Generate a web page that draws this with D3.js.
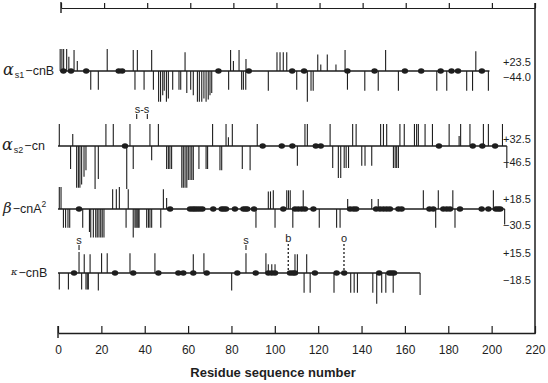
<!DOCTYPE html>
<html><head><meta charset="utf-8">
<script src="https://cdn.jsdelivr.net/npm/d3@7"></script>
<style>html,body{margin:0;padding:0;background:#fff;}svg{display:block;}</style>
</head><body>
<script>
// ---------------- DATA (residue positions; bar magnitudes in arbitrary units) ----------------
const axisTicks = [0,20,40,60,80,100,120,140,160,180,200,220];
const axisTitle = "Residue sequence number";

// alpha-s1 casein B
const as1Span = [1,199];
const as1Scale = ["+23.5","\u221244.0"];
const as1Up = [[1,10],[1.8,10],[2.6,10],[4,10],[5,6.5],[7.4,9.5],[8.9,4.5],[22.7,10],[34.7,9.5],[36.6,9.5],[43.2,9.5],[58.6,8.5],[79.6,9.5],[80.9,4.5],[83.5,9.5],[86.7,5.5],[101,8.5],[102.4,8.5],[103.9,8.5],[105.5,8.5],[119.8,7.5],[121.2,3],[124.2,7.5],[128.2,3],[132.4,9.5],[151.1,9.5],[192.7,9]];
const as1Down = [[15.1,8.5],[18.6,8.5],[35.5,8.5],[39.7,8.5],[44,8.5],[46.4,14],[47.3,14],[48.3,11],[49,9],[50,14],[50.9,12.5],[52.9,8.5],[55.8,8.5],[56.6,8.5],[59.4,10],[61.2,8.5],[62.4,11],[64.3,14],[65.2,14],[66.3,14],[67.3,12.5],[68.3,14],[69.3,13],[70.1,11],[70.9,10],[78.7,8.5],[84.7,8.5],[85.5,8.5],[86.6,8.5],[97,9],[110.1,8.5],[115,14],[116.7,9],[117.7,9],[133.5,8.5],[141.5,9],[147.7,9],[157,9],[174.7,9],[179.3,9],[188.5,9],[191.2,9],[198.5,9]];
const as1Dots = [2.5,6,13,28,29.6,74,88,108,113.5,133.5,146,160,167.5,176.5,181.5,184.5,195.5];

// alpha-s2 casein
const as2Span = [0,207];
const as2Scale = ["+32.5","\u221246.5"];
const as2Up = [[0.6,10],[6.8,5.5],[22.1,10],[25.5,10],[33.2,10],[42.4,10],[46.3,10],[71.3,10],[77.5,10],[78.6,4],[80.4,10],[91.9,10],[113.9,10],[115,10],[125.5,10],[135.9,10],[137.5,10],[148.8,10],[150.1,10],[151.6,10],[157.7,10],[159.7,10],[164.4,10],[165.4,10],[166.2,10],[169.3,10],[172.7,10],[180.4,10],[185,4.5],[185.7,10],[190,10],[196.2,10],[198.5,10],[205,10]];
const as2Down = [[5.8,10.5],[8.6,19],[9.4,19],[10.1,19],[10.9,17.5],[12,14],[12.9,11],[17.1,19.5],[18.6,15],[31.7,19.5],[34.7,10.5],[43.2,6.5],[50.1,10.5],[50.9,10.5],[51.6,10.5],[52.4,10.5],[57.1,19],[57.8,19],[58.6,19],[59.4,19],[60.1,15.5],[60.9,15.5],[61.7,15.5],[62.4,15.5],[65,10.5],[68.3,10.5],[69,10.5],[74.7,11],[75.5,11],[85,10.5],[88.6,11],[110.4,9],[126.7,10],[129.3,14.5],[130.4,14.5],[132,10],[132.9,10],[134,10],[140.1,9],[141.6,9],[144.7,9],[154.7,10],[155.5,10],[156.2,10],[157,10],[207,10]];
const as2Dots = [30.9,94.4,103.2,108.1,118.9,121.2,175.7,191.3,195.7,201.6];
const as2Bonds = [36.3,41.2];

// beta casein A2
const betaSpan = [0,206];
const betaScale = ["+18.5","\u221230.5"];
const betaUp = [[0.6,10],[1.4,10],[25.2,9],[26.9,9],[28.3,10],[32.4,9],[48.6,9],[50.1,5],[97,8],[98,8],[99.3,8.5],[105.5,8.5],[106.3,8.5],[107.1,8.5],[113.1,8.5],[133.6,4.5],[144.7,4.5],[147.7,4.5],[168.5,8.5],[175.4,8.5],[182.1,8.5],[200.8,8.5]];
const betaDown = [[2.5,8.5],[3.5,8.5],[4.6,8.5],[5.4,8.5],[11.4,8.5],[14.5,10.5],[15.1,13],[16.3,13],[17.4,13],[18.1,13],[18.9,13],[19.7,13],[20.4,13],[21.2,13],[31.4,8.5],[34.7,13],[35.5,8.5],[36,8.5],[36.5,8.5],[37,8.5],[37.4,8.5],[40.9,8.5],[41.7,8.5],[42.4,8.5],[43.2,8.5],[47.4,8.5],[91.3,8.5],[100.1,8.5],[108.3,8.5],[120.5,8.5],[128.5,8.5],[130.1,8.5],[174.2,8.5],[183.1,8.5],[206,7]];
const betaDots = [9.7,51.7,60.9,62.1,63.1,64.2,65.4,66.6,71.6,75.5,76.5,77.5,81.6,85.5,86.5,87.3,90.4,103.9,109.3,110.8,112.4,113.9,117.8,134.7,136.3,137.5,146.7,148.5,150.1,151.6,153.1,157,158.5,171.3,173.1,177.7,179.3,180.8,185.4,195.4,198.5,201.9,203,204];

// kappa casein B
const kappaSpan = [0,167];
const kappaScale = ["+15.5","\u221218.5"];
const kappaUp = [[9.7,9.5],[12.1,8.5],[14.8,8.5],[20.1,9],[22.7,9],[33.2,9],[44.7,9],[62.4,8.5],[67.3,9],[86.7,9],[95.9,9],[97,4],[98.6,4],[100.1,4],[109.3,8.5],[110.4,8.5],[114.7,8.5]];
const kappaDown = [[0.6,7.5],[4.8,7.5],[10.9,7.5],[12.9,7.5],[13.5,7.5],[14,7.5],[18.6,8],[80.1,8],[113.5,9],[116.3,9],[127.3,9],[135,9],[136.6,9],[138.1,9],[145.2,9],[147,14],[149.3,9],[151.2,9],[154.6,9],[167,10]];
const kappaDots = [7.4,26.3,34.7,46.3,55.5,57.8,62.4,68.6,82.7,91.2,97,98.6,100.1,107,108.3,109.3,118.5,128.5,132,148.1,152.8,153.9,155];
const kappaSites = [["s",9.7],["s",86.7]];
const kappaCleave = [["b",106.2],["o",131.9]];

// ---------------- DRAWING ----------------
const W = 548, H = 383;
const ink = "#1e1e1e";
const sans = "'Liberation Sans', Arial, Helvetica, sans-serif";
const serif = "'DejaVu Serif', 'Liberation Serif', serif";

const svg = d3.select("body").append("svg").attr("width", W).attr("height", H);

const x = d3.scaleLinear().domain([0,220]).range([58,535]);
const xTop = d3.scaleLinear().domain([0,220]).range([61,535]);
const h = d3.scaleLinear().domain([0,10]).range([0,22]);

// bottom axis
const axisY = 333;
const gAx = svg.append("g").attr("transform", `translate(0,${axisY})`)
  .call(d3.axisBottom(x).tickValues(axisTicks).tickSizeInner(-7).tickSizeOuter(0).tickPadding(12));
gAx.selectAll("path,line").attr("stroke", ink).attr("stroke-width", 1.2);
gAx.selectAll("text").attr("font-family", sans).attr("font-size", 12).attr("fill", ink);
gAx.select(".domain").attr("stroke-width", 1.3);
svg.append("line").attr("x1", x(0)).attr("x2", x(0)).attr("y1", axisY-7).attr("y2", axisY+5).attr("stroke", ink).attr("stroke-width", 1.4);

svg.append("text").attr("x", 273).attr("y", 377).attr("text-anchor","middle")
  .attr("font-family", sans).attr("font-weight","bold").attr("font-size", 13).attr("fill", ink).text(axisTitle);

// top axis
const topY = 8;
const gTop = svg.append("g").attr("transform", `translate(0,${topY})`)
  .call(d3.axisTop(xTop).tickValues(axisTicks).tickSizeInner(5).tickSizeOuter(0).tickFormat(""));
gTop.selectAll("path,line").attr("stroke", ink).attr("stroke-width", 1.2);
svg.append("line").attr("x1", xTop(0)).attr("x2", xTop(0)).attr("y1", topY-6).attr("y2", topY+5).attr("stroke", ink).attr("stroke-width", 1.4);
// right frame line
svg.append("line").attr("x1", x(220)).attr("x2", x(220)).attr("y1", 3).attr("y2", axisY+1).attr("stroke", ink).attr("stroke-width", 1.5);

function drawRow(y0, span, up, down, dots, scaleLabels, labYs) {
  const g = svg.append("g");
  g.selectAll("line.up").data(up).join("line").attr("class","up")
    .attr("x1", d=>x(d[0])).attr("x2", d=>x(d[0]))
    .attr("y1", y0).attr("y2", d=>y0-h(d[1])).attr("stroke", ink).attr("stroke-width", 1.1);
  g.selectAll("line.dn").data(down).join("line").attr("class","dn")
    .attr("x1", d=>x(d[0])).attr("x2", d=>x(d[0]))
    .attr("y1", y0).attr("y2", d=>y0+h(d[1])).attr("stroke", ink).attr("stroke-width", 1.1);
  g.append("line").attr("x1", x(span[0])).attr("x2", x(span[1])).attr("y1", y0).attr("y2", y0)
    .attr("stroke", ink).attr("stroke-width", 1.7);
  g.selectAll("ellipse").data(dots).join("ellipse")
    .attr("cx", d=>x(d)).attr("cy", y0).attr("rx", 3.2).attr("ry", 2.8).attr("fill", ink);
  g.selectAll("text.sc").data(scaleLabels).join("text").attr("class","sc")
    .attr("x", 503).attr("y", (d,i)=>labYs[i]).attr("dy","0.35em")
    .attr("font-family", sans).attr("font-size", 11).attr("fill", ink).text(d=>d);
}

const rowY = [71, 146, 209, 273];
drawRow(rowY[0], as1Span, as1Up, as1Down, as1Dots, as1Scale, [62, 77]);
drawRow(rowY[1], as2Span, as2Up, as2Down, as2Dots, as2Scale, [139, 162]);
drawRow(rowY[2], betaSpan, betaUp, betaDown, betaDots, betaScale, [199, 225]);
drawRow(rowY[3], kappaSpan, kappaUp, kappaDown, kappaDots, kappaScale, [253, 280]);

// row names
function rowName(yb, greek, sub, rest, sup, opts) {
  const t = svg.append("text").attr("x", opts.x).attr("y", yb).attr("fill", ink).attr("font-family", sans).attr("font-size", 12.5);
  t.append("tspan").attr("font-family", serif).attr("font-style","italic").attr("font-size", opts.gs).attr("dy", opts.gdy||0).text(greek);
  if (sub) t.append("tspan").attr("font-size", 9).attr("dy", 3 - (opts.gdy||0)).attr("dx", 1).text(sub);
  t.append("tspan").attr("dy", sub ? -3 : -(opts.gdy||0)).attr("dx", 1).text(rest);
  if (sup) t.append("tspan").attr("font-size", 8.5).attr("dy", -6).text(sup);
}
rowName(75, "\u03b1", "s1", "\u2212cnB", null, {x:3, gs:16});
rowName(150, "\u03b1", "s2", "\u2212cn", null, {x:2, gs:16});
rowName(213, "\u03b2", null, "\u2212cnA", "2", {x:3, gs:15});
rowName(277, "\u03ba", null, "\u2212cnB", null, {x:11, gs:10, gdy:-2});

// disulfide marks on alpha-s2
svg.append("text").attr("x", (x(as2Bonds[0])+x(as2Bonds[1]))/2).attr("y", 109).attr("dy","0.35em")
  .attr("text-anchor","middle").attr("font-family", sans).attr("font-size", 11).attr("fill", ink).text("s-s");
svg.selectAll("line.ss").data(as2Bonds).join("line").attr("class","ss")
  .attr("x1", d=>x(d)).attr("x2", d=>x(d)).attr("y1", 114).attr("y2", 119).attr("stroke", ink).attr("stroke-width", 1.1);

// kappa annotations
svg.selectAll("text.ks").data(kappaSites).join("text").attr("class","ks")
  .attr("x", d=>x(d[1])).attr("y", 240).attr("dy","0.35em").attr("text-anchor","middle")
  .attr("font-family", sans).attr("font-size", 11).attr("fill", ink).text(d=>d[0]);
svg.selectAll("line.ks").data(kappaSites).join("line").attr("class","ks")
  .attr("x1", d=>x(d[1])).attr("x2", d=>x(d[1])).attr("y1", 245).attr("y2", 250).attr("stroke", ink).attr("stroke-width", 1.1);
svg.selectAll("text.kc").data(kappaCleave).join("text").attr("class","kc")
  .attr("x", d=>x(d[1])).attr("y", 238).attr("dy","0.35em").attr("text-anchor","middle")
  .attr("font-family", sans).attr("font-size", 11).attr("fill", ink).text(d=>d[0]);
svg.selectAll("line.kc").data(kappaCleave).join("line").attr("class","kc")
  .attr("x1", d=>x(d[1])).attr("x2", d=>x(d[1])).attr("y1", 244).attr("y2", rowY[3])
  .attr("stroke", ink).attr("stroke-width", 1.3).attr("stroke-dasharray","2,2");
</script>
</body></html>
